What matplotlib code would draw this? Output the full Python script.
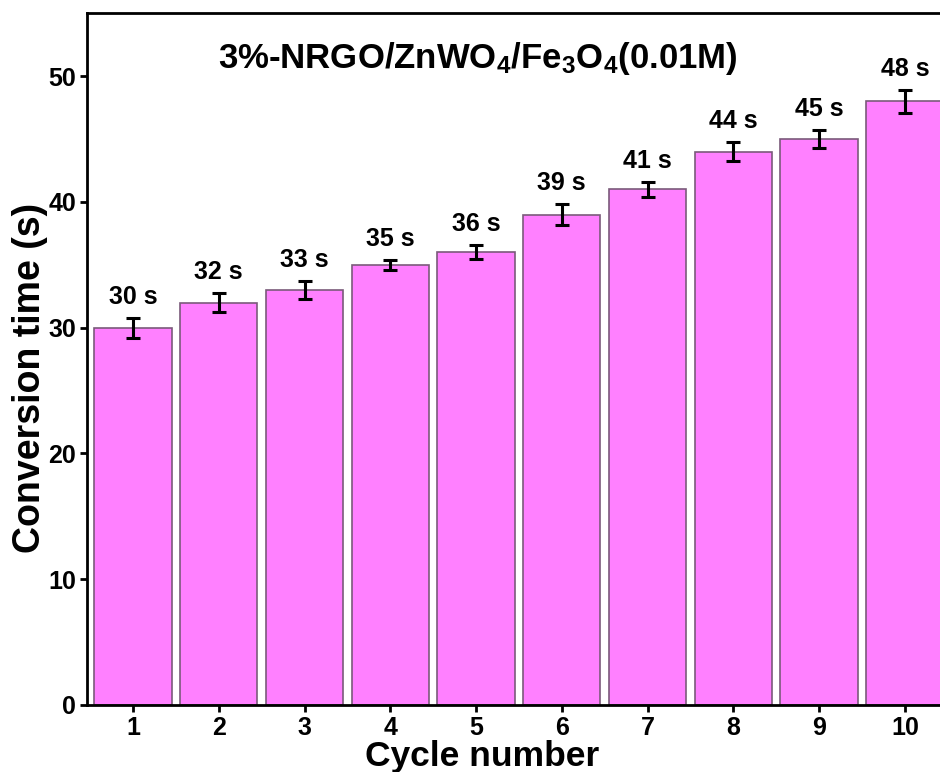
import matplotlib as mpl
import matplotlib.pyplot as plt

mpl.rcParams['font.family'] = ['Liberation Sans', 'DejaVu Sans']
mpl.rcParams['font.weight'] = 'bold'
mpl.rcParams['mathtext.fontset'] = 'custom'
mpl.rcParams['mathtext.rm'] = 'Liberation Sans:bold'
mpl.rcParams['mathtext.default'] = 'rm'

# conversion time per reuse cycle
cycles = [1, 2, 3, 4, 5, 6, 7, 8, 9, 10]
times = [30, 32, 33, 35, 36, 39, 41, 44, 45, 48]
errors = [0.8, 0.75, 0.75, 0.4, 0.55, 0.85, 0.6, 0.75, 0.75, 0.9]
value_labels = ['%d s' % t for t in times]

fig = plt.figure(figsize=(9.4, 7.72), dpi=100)
ax = fig.add_axes([0.0926, 0.0868, 0.9074, 0.896])

ax.bar(cycles, times, width=0.9, color='#ff80ff', edgecolor='#7a5a7a', linewidth=1.2)
ax.errorbar(cycles, times, yerr=errors, fmt='none', ecolor='black',
            elinewidth=2.2, capsize=5, capthick=2.2)

for x, t, e, lab in zip(cycles, times, errors, value_labels):
    ax.annotate(lab, (x, t + e), xytext=(0, 6.5), textcoords='offset points',
                ha='center', va='bottom', fontsize=18, fontweight='bold')

ax.text(0.458, 0.935, r'3%-NRGO/ZnWO$_4$/Fe$_3$O$_4$(0.01M)', transform=ax.transAxes,
        ha='center', va='center', fontsize=25, fontweight='bold')

ax.set_xlim(0.464, 10.41)
ax.set_ylim(0, 55)
ax.set_xticks(cycles)
ax.set_yticks([0, 10, 20, 30, 40, 50])
ax.tick_params(axis='both', direction='out', length=5, width=2, labelsize=18, pad=3)
for side in ['left', 'bottom', 'top']:
    ax.spines[side].set_linewidth(2)
ax.spines['right'].set_visible(False)

ax.set_xlabel('Cycle number', fontsize=25.5, fontweight='bold')
ax.set_ylabel('Conversion time (s)', fontsize=27, fontweight='bold')
ax.xaxis.set_label_coords(0.463, -0.05)
ax.yaxis.set_label_coords(-0.067, 0.4725)
ax.yaxis.label.set_va('center')

fig.savefig('out.png', dpi=100)
